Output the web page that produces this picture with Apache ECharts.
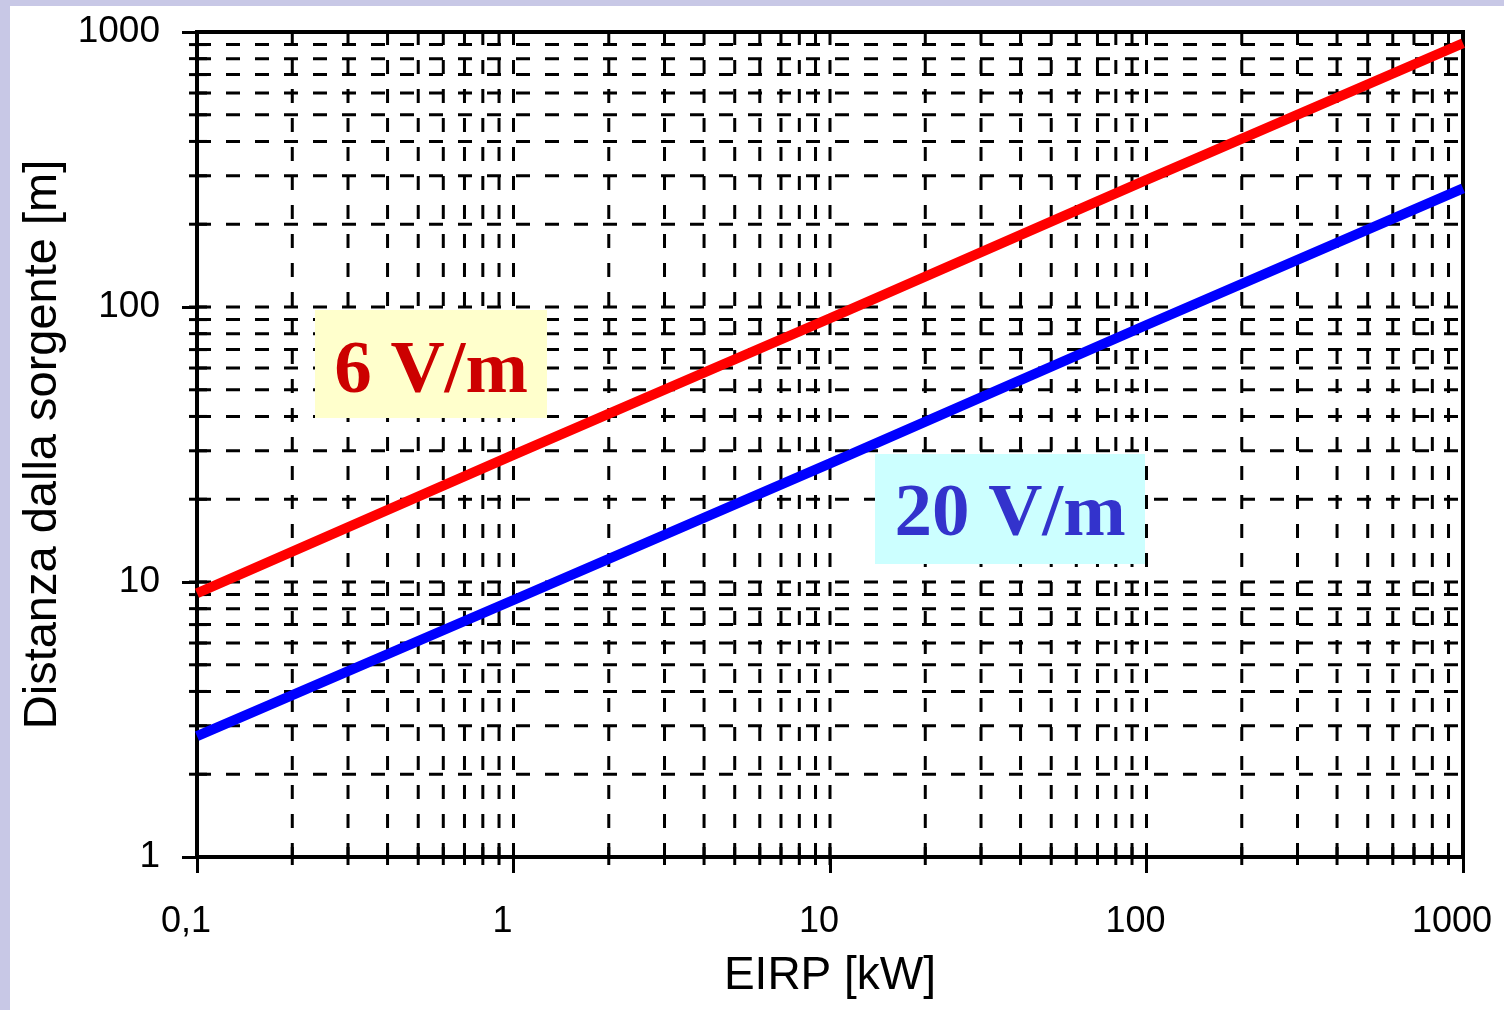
<!DOCTYPE html>
<html>
<head>
<meta charset="UTF-8">
<title>Distanza dalla sorgente</title>
<style>
  html, body { margin: 0; padding: 0; background: #c8c8e6; }
  #main { position: absolute; left: 10px; top: 6px; width: 1494px; height: 1004px; background: #fff; }
</style>
</head>
<body>
<div id="main"></div>
<script src="https://cdn.jsdelivr.net/npm/echarts@6/dist/echarts.min.js"></script>
<script>
// EIRP [kW] and distance [m]
var eirp = [0.1, 1, 10, 100, 1000];
var dist6 = [9.1, 29, 91, 290, 910];    // 6 V/m
var dist20 = [2.75, 8.6, 27, 86, 270];  // 20 V/m

var xTicks = [0.1, 1, 10, 100, 1000];
var xTickLabels = ['0,1', '1', '10', '100', '1000'];
var yTicks = [1, 10, 100, 1000];
var yTickLabels = ['1', '10', '100', '1000'];

// grid lines: every 1..9 step inside each decade
var xGrid = [0.2, 0.3, 0.4, 0.5, 0.6, 0.7, 0.8, 0.9, 1, 2, 3, 4, 5, 6, 7, 8, 9, 10,
             20, 30, 40, 50, 60, 70, 80, 90, 100, 200, 300, 400, 500, 600, 700, 800, 900];
var yGrid = [2, 3, 4, 5, 6, 7, 8, 9, 10, 20, 30, 40, 50, 60, 70, 80, 90, 100,
             200, 300, 400, 500, 600, 700, 800, 900];

function pairs(xs, ys) {
  return xs.map(function (x, i) { return [x, ys[i]]; });
}

var myChart = echarts.init(document.getElementById('main'));

var dash = [14, 15];

myChart.setOption({
  animation: false,
  grid: {
    left: 187, right: 41, top: 26, bottom: 153,
    show: true, borderColor: '#000', borderWidth: 4, backgroundColor: 'transparent'
  },
  xAxis: {
    type: 'log', logBase: 10, min: 0.1, max: 1000,
    name: 'EIRP [kW]', nameLocation: 'middle', nameGap: 96,
    nameTextStyle: { fontFamily: 'Liberation Sans', fontSize: 46, color: '#000' },
    axisLine: { lineStyle: { color: '#000', width: 4 } },
    axisTick: { length: 16, lineStyle: { color: '#000', width: 3 } },
    axisLabel: {
      margin: 47, fontFamily: 'Liberation Sans', fontSize: 36, color: '#000',
      padding: [0, 22, 0, 0],
      formatter: function (v) {
        var i = xTicks.findIndex(function (t) { return Math.abs(t - v) < t * 1e-6; });
        return i >= 0 ? xTickLabels[i] : '';
      }
    },
    splitLine: { show: false }
  },
  yAxis: {
    type: 'log', logBase: 10, min: 1, max: 1000,
    name: 'Distanza dalla sorgente [m]', nameLocation: 'middle', nameGap: 130,
    nameTextStyle: { fontFamily: 'Liberation Sans', fontSize: 47, color: '#000' },
    axisLine: { lineStyle: { color: '#000', width: 4 } },
    axisTick: { length: 15, lineStyle: { color: '#000', width: 3 } },
    axisLabel: {
      margin: 37, fontFamily: 'Liberation Sans', fontSize: 37, color: '#000',
      formatter: function (v) {
        var i = yTicks.findIndex(function (t) { return Math.abs(t - v) < t * 1e-6; });
        return i >= 0 ? yTickLabels[i] : '';
      }
    },
    splitLine: { show: false }
  },
  series: [
    {
      // vertical dashed grid + small ticks crossing the x axis
      type: 'custom', silent: true, z: 1,
      data: xGrid.map(function (v) { return [v, 1]; }),
      encode: { x: 0, y: 1 },
      renderItem: function (params, api) {
        var v = api.value(0);
        var b = api.coord([v, 1]);
        var t = api.coord([v, 1000]);
        return { type: 'group', children: [
          { type: 'line', shape: { x1: b[0], y1: b[1], x2: t[0], y2: t[1] },
            style: { stroke: '#000', lineWidth: 3, lineDash: dash } },
          { type: 'line', shape: { x1: b[0], y1: b[1] - 10, x2: b[0], y2: b[1] + 8 },
            style: { stroke: '#000', lineWidth: 3 } }
        ] };
      }
    },
    {
      // horizontal dashed grid + small ticks crossing the y axis
      type: 'custom', silent: true, z: 1,
      data: yGrid.map(function (v) { return [0.1, v]; }),
      encode: { x: 0, y: 1 },
      renderItem: function (params, api) {
        var v = api.value(1);
        var l = api.coord([0.1, v]);
        var r = api.coord([1000, v]);
        return { type: 'group', children: [
          { type: 'line', shape: { x1: l[0], y1: l[1], x2: r[0], y2: r[1] },
            style: { stroke: '#000', lineWidth: 3, lineDash: dash } },
          { type: 'line', shape: { x1: l[0] - 8, y1: l[1], x2: l[0] + 10, y2: l[1] },
            style: { stroke: '#000', lineWidth: 3 } }
        ] };
      }
    },
    {
      name: '6 V/m', type: 'line', z: 5,
      data: pairs(eirp, dist6),
      showSymbol: false,
      lineStyle: { color: '#ff0000', width: 10 }
    },
    {
      name: '20 V/m', type: 'line', z: 5,
      data: pairs(eirp, dist20),
      showSymbol: false,
      lineStyle: { color: '#0000ff', width: 10 }
    }
  ],
  graphic: [
    {
      type: 'group', left: 305, top: 304, z: 100,
      children: [
        { type: 'rect', z: 100, shape: { x: 0, y: 0, width: 232, height: 108 }, style: { fill: '#ffffcc' } },
        { type: 'text', z: 101, x: 116, y: 63, style: {
            text: '6 V/m', fill: '#cc0000', font: 'bold 75px "Liberation Serif"',
            align: 'center', verticalAlign: 'middle' } }
      ]
    },
    {
      type: 'group', left: 865, top: 448, z: 100,
      children: [
        { type: 'rect', z: 100, shape: { x: 0, y: 0, width: 270, height: 110 }, style: { fill: '#ccffff' } },
        { type: 'text', z: 101, x: 135, y: 62, style: {
            text: '20 V/m', fill: '#3333cc', font: 'bold 75px "Liberation Serif"',
            align: 'center', verticalAlign: 'middle' } }
      ]
    }
  ]
});
</script>
</body>
</html>
